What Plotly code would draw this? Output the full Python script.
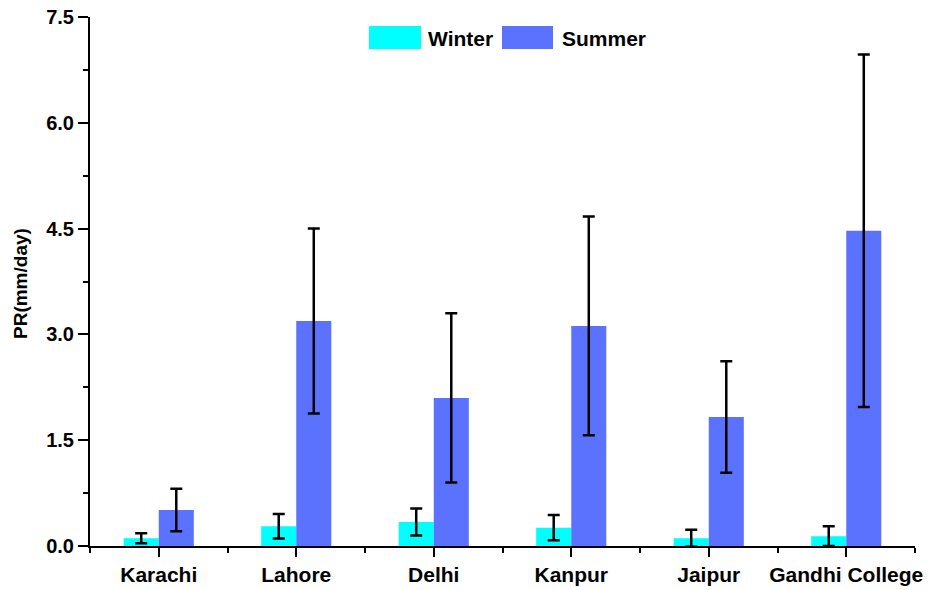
import plotly.graph_objects as go

cities = ["Karachi", "Lahore", "Delhi", "Kanpur", "Jaipur", "Gandhi College"]
winter = [0.11, 0.28, 0.34, 0.26, 0.11, 0.14]
winter_err = [0.07, 0.175, 0.19, 0.18, 0.12, 0.14]
summer = [0.51, 3.19, 2.10, 3.12, 1.83, 4.47]
summer_err = [0.30, 1.31, 1.20, 1.55, 0.79, 2.50]
yticks = [0.0, 1.5, 3.0, 4.5, 6.0, 7.5]

pos = list(range(len(cities)))
winter_color = "#00FFFF"
summer_color = "#5B72FF"
font_family = "Liberation Sans, Arial, sans-serif"

fig = go.Figure()
fig.add_trace(go.Bar(
    x=pos, y=winter, name="Winter", marker=dict(color=winter_color, line=dict(width=0)),
    error_y=dict(type="data", array=winter_err, visible=True, color="black", thickness=2.5, width=6),
))
fig.add_trace(go.Bar(
    x=pos, y=summer, name="Summer", marker=dict(color=summer_color, line=dict(width=0)),
    error_y=dict(type="data", array=summer_err, visible=True, color="black", thickness=2.5, width=6),
))

W, H = 931, 590
ml, mr, mt, mb = 90, 16, 17, 44
pw, ph = W - ml - mr, H - mt - mb

def px(x):
    return (x - ml) / pw

def py(y):
    return (H - mb - y) / ph

fig.update_layout(
    width=W, height=H,
    margin=dict(l=ml, r=mr, t=mt, b=mb, autoexpand=False),
    plot_bgcolor="white", paper_bgcolor="white",
    barmode="group", bargap=0.49, bargroupgap=0,
    showlegend=False,
    font=dict(family=font_family, color="black"),
)

fig.update_xaxes(
    range=[-0.5, 5.5], tickmode="array", tickvals=pos, ticktext=cities,
    showline=True, linecolor="black", linewidth=2,
    ticks="outside", ticklen=9, tickwidth=2, tickcolor="black",
    showgrid=False, zeroline=False, automargin=False,
    tickfont=dict(size=21, family=font_family, color="black", weight="bold"),
    minor=dict(tickvals=[-0.5, 0.5, 1.5, 2.5, 3.5, 4.5, 5.5], ticks="outside", ticklen=5, tickwidth=2, tickcolor="black"),
)
fig.update_yaxes(
    range=[0, 7.5], tickmode="array", tickvals=yticks, tickformat=".1f",
    showline=True, linecolor="black", linewidth=2,
    ticks="outside", ticklen=10, tickwidth=2, tickcolor="black",
    showgrid=False, zeroline=False, automargin=False,
    tickfont=dict(size=20, family=font_family, color="black", weight="bold"),
    minor=dict(dtick=0.75, tick0=0, ticks="outside", ticklen=5, tickwidth=2, tickcolor="black"),
)

# y-axis title
fig.add_annotation(xref="paper", yref="paper", x=px(21), y=py(284),
                   text="PR(mm/day)", textangle=-90, showarrow=False,
                   xanchor="center", yanchor="middle",
                   font=dict(size=19, family=font_family, color="black", weight="bold"))

# legend drawn manually (large swatches like the reference)
legend_items = [("Winter", winter_color, 369, 421, 426), ("Summer", summer_color, 502, 553, 560)]
for label, color, x0, x1, tx in legend_items:
    fig.add_shape(type="rect", xref="paper", yref="paper",
                  x0=px(x0), x1=px(x1), y0=py(49), y1=py(26),
                  fillcolor=color, line=dict(width=0))
    fig.add_annotation(xref="paper", yref="paper", x=px(tx), y=py(38),
                       text=label, showarrow=False, xanchor="left", yanchor="middle",
                       font=dict(size=21, family=font_family, color="black", weight="bold"))

fig.write_html("out.html", config={"displayModeBar": False},
               post_script="document.body.style.margin='0';document.body.style.overflow='hidden';")
